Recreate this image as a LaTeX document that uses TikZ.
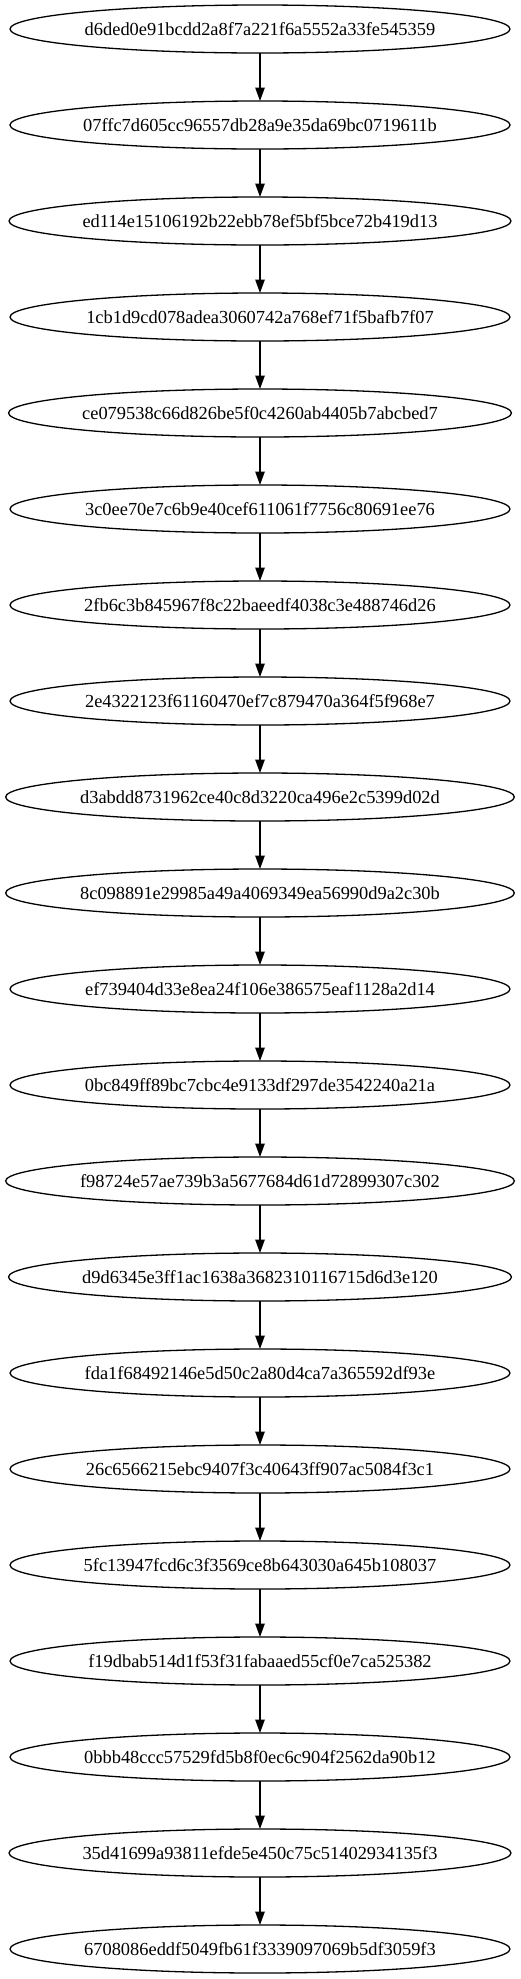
\documentclass[tikz,border=0pt]{standalone}
\usepackage{fontspec}
\setmainfont{Liberation Serif}
\usepackage{tikz}
\usetikzlibrary{positioning,arrows.meta,shapes.geometric}
\tikzset{
  linkarrow/.style={-{Triangle[length=13.5pt, width=9.5pt]}, line width=1.3pt},
  commitnode/.style={draw, ellipse, line width=1.3pt, minimum width=500pt, minimum height=48pt, inner sep=0pt, outer sep=0pt, align=center}
}

\begin{document}
\begin{tikzpicture}[x=1pt, y=1pt, node distance=48pt, every node/.style={font=\fontsize{18.4}{22}\selectfont}]
  \useasboundingbox (0,0) rectangle (520,-1979);
  \node[commitnode] (c1) at (260,-29) {d6ded0e91bcdd2a8f7a221f6a5552a33fe545359};
  \node[commitnode, below=of c1] (c2) {07ffc7d605cc96557db28a9e35da69bc0719611b};
  \node[commitnode, below=of c2] (c3) {ed114e15106192b22ebb78ef5bf5bce72b419d13};
  \node[commitnode, below=of c3] (c4) {1cb1d9cd078adea3060742a768ef71f5bafb7f07};
  \node[commitnode, below=of c4] (c5) {ce079538c66d826be5f0c4260ab4405b7abcbed7};
  \node[commitnode, below=of c5] (c6) {3c0ee70e7c6b9e40cef611061f7756c80691ee76};
  \node[commitnode, below=of c6] (c7) {2fb6c3b845967f8c22baeedf4038c3e488746d26};
  \node[commitnode, below=of c7] (c8) {2e4322123f61160470ef7c879470a364f5f968e7};
  \node[commitnode, below=of c8] (c9) {d3abdd8731962ce40c8d3220ca496e2c5399d02d};
  \node[commitnode, below=of c9] (c10) {8c098891e29985a49a4069349ea56990d9a2c30b};
  \node[commitnode, below=of c10] (c11) {ef739404d33e8ea24f106e386575eaf1128a2d14};
  \node[commitnode, below=of c11] (c12) {0bc849ff89bc7cbc4e9133df297de3542240a21a};
  \node[commitnode, below=of c12] (c13) {f98724e57ae739b3a5677684d61d72899307c302};
  \node[commitnode, below=of c13] (c14) {d9d6345e3ff1ac1638a3682310116715d6d3e120};
  \node[commitnode, below=of c14] (c15) {fda1f68492146e5d50c2a80d4ca7a365592df93e};
  \node[commitnode, below=of c15] (c16) {26c6566215ebc9407f3c40643ff907ac5084f3c1};
  \node[commitnode, below=of c16] (c17) {5fc13947fcd6c3f3569ce8b643030a645b108037};
  \node[commitnode, below=of c17] (c18) {f19dbab514d1f53f31fabaaed55cf0e7ca525382};
  \node[commitnode, below=of c18] (c19) {0bbb48ccc57529fd5b8f0ec6c904f2562da90b12};
  \node[commitnode, below=of c19] (c20) {35d41699a93811efde5e450c75c51402934135f3};
  \node[commitnode, below=of c20] (c21) {6708086eddf5049fb61f3339097069b5df3059f3};
  \draw[linkarrow] (c1) -- (c2);
  \draw[linkarrow] (c2) -- (c3);
  \draw[linkarrow] (c3) -- (c4);
  \draw[linkarrow] (c4) -- (c5);
  \draw[linkarrow] (c5) -- (c6);
  \draw[linkarrow] (c6) -- (c7);
  \draw[linkarrow] (c7) -- (c8);
  \draw[linkarrow] (c8) -- (c9);
  \draw[linkarrow] (c9) -- (c10);
  \draw[linkarrow] (c10) -- (c11);
  \draw[linkarrow] (c11) -- (c12);
  \draw[linkarrow] (c12) -- (c13);
  \draw[linkarrow] (c13) -- (c14);
  \draw[linkarrow] (c14) -- (c15);
  \draw[linkarrow] (c15) -- (c16);
  \draw[linkarrow] (c16) -- (c17);
  \draw[linkarrow] (c17) -- (c18);
  \draw[linkarrow] (c18) -- (c19);
  \draw[linkarrow] (c19) -- (c20);
  \draw[linkarrow] (c20) -- (c21);
\end{tikzpicture}
\end{document}
